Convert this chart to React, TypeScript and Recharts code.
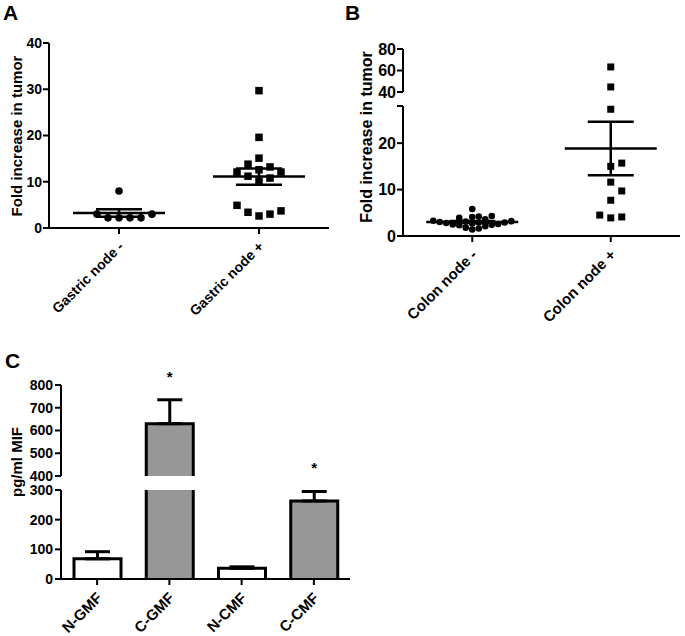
import React from 'react';
import {
  ScatterChart,
  Scatter,
  BarChart,
  Bar,
  Cell,
  XAxis,
  YAxis,
  ErrorBar,
  LabelList,
} from 'recharts';

const FONT = 'Arial, "Liberation Sans", Helvetica, sans-serif';

// Panel A: fold increase in tumor, gastric nodes
const gastricGroups = ['Gastric node -', 'Gastric node +'];
const gastricNeg = [8.0, 3.0, 3.0, 2.2, 2.2, 2.2, 2.2];
const gastricPos = [29.7, 19.6, 15.1, 13.8, 13.2, 12.6, 12.1, 12.1, 11.2, 10.8, 10.1, 4.9, 3.7, 3.4, 3.0, 2.6];
const gastricTicks = [0, 10, 20, 30, 40];

// Panel B: colon nodes, axis broken between 28 and 40
const colonGroups = ['Colon node -', 'Colon node +'];
const colonNeg = [5.8, 4.3, 4.2, 4.1, 3.9, 3.6, 3.3, 3.2, 3.1, 3.0, 2.9, 2.9, 2.8, 2.7, 2.6, 2.5, 2.4, 2.3, 2.1, 1.8, 1.6, 1.4];
const colonPos = [63.3, 44.7, 27.3, 15.7, 15.0, 11.6, 9.7, 7.7, 4.5, 4.1, 3.9];
const colonLowTicks = [0, 10, 20, 28];
const colonHighTicks = [40, 60, 80];

// Panel C: pg/ml MIF, axis broken between 300 and 400
const mifGroups = ['N-GMF', 'C-GMF', 'N-CMF', 'C-CMF'];
const mifMean = [68, 630, 36, 263];
const mifSem = [24, 105, 5, 32];
const mifSignificant = [false, true, false, true];
const mifLowTicks = [0, 100, 200, 300];
const mifHighTicks = [400, 500, 600, 700, 800];

const BAR_FILLS = ['#ffffff', '#979797', '#ffffff', '#979797'];

const mean = (a: number[]) => a.reduce((s, v) => s + v, 0) / a.length;
const sem = (a: number[]) => {
  const m = mean(a);
  return Math.sqrt(a.reduce((s, v) => s + (v - m) ** 2, 0) / (a.length - 1)) / Math.sqrt(a.length);
};

// simple beeswarm: lowest values first, each point goes to the nearest free column
function swarm(values: number[], center: number, pxY: number, pxX: number, slotPx: number, gapPx: number) {
  const order = values.map((_, i) => i).sort((a, b) => values[a] - values[b]);
  const placed: { v: number; slot: number }[] = [];
  const out: { x: number; y: number }[] = [];
  order.forEach((i) => {
    const v = values[i];
    let slot = 0;
    for (let n = 0; n < 50; n++) {
      const cand = n === 0 ? 0 : n % 2 ? (n + 1) / 2 : -n / 2;
      const hit = placed.some((p) => p.slot === cand && Math.abs(p.v - v) * pxY < gapPx);
      if (!hit) {
        slot = cand;
        break;
      }
    }
    placed.push({ v, slot });
    out[i] = { x: center + (slot * slotPx) / pxX, y: v };
  });
  return out;
}

const axisStroke = { stroke: '#000', strokeWidth: 2 };

const Circle = (r: number) => (p: any) => <circle cx={p.cx} cy={p.cy} r={r} fill="#000" />;
const Square = (s: number) => (p: any) => (
  <rect x={p.cx - s / 2} y={p.cy - s / 2} width={s} height={s} fill="#000" />
);
const MeanLine = (p: any) => (
  <line x1={p.cx - 46} x2={p.cx + 46} y1={p.cy} y2={p.cy} stroke="#000" strokeWidth={2.5} />
);

function CatTick(props: any) {
  const { x, y, payload, labels, fontSize } = props;
  const text = labels ? labels[payload.value - 1] : payload.value;
  const tx = x + 2;
  const ty = y + 8;
  return (
    <text
      x={tx}
      y={ty}
      transform={`rotate(-45 ${tx} ${ty})`}
      textAnchor="end"
      dominantBaseline="central"
      fill="#000"
      fontSize={fontSize}
      fontWeight={700}
      fontFamily={FONT}
    >
      {text}
    </text>
  );
}

function PanelA() {
  const pxX = 280 / 2;
  const pxY = 185 / 40;
  const neg = swarm(gastricNeg, 1, pxY, pxX, 11, 11);
  const pos = swarm(gastricPos, 2, pxY, pxX, 11, 11);
  const means = [
    { x: 1, y: mean(gastricNeg), sem: sem(gastricNeg) },
    { x: 2, y: mean(gastricPos), sem: sem(gastricPos) },
  ];
  const tick = { fill: '#000', fontSize: 14, fontWeight: 700, fontFamily: FONT };
  return (
    <div style={{ position: 'absolute', left: 0, top: 0 }}>
      <ScatterChart width={340} height={320} margin={{ top: 43, right: 11, bottom: 0, left: 9 }}>
        <XAxis
          type="number"
          dataKey="x"
          domain={[0.5, 2.5]}
          ticks={[1, 2]}
          interval={0}
          height={92}
          tickSize={6}
          axisLine={axisStroke}
          tickLine={axisStroke}
          tick={<CatTick labels={gastricGroups} fontSize={14} />}
        />
        <YAxis
          type="number"
          dataKey="y"
          domain={[0, 40]}
          ticks={gastricTicks}
          interval={0}
          width={40}
          tickSize={6}
          tickMargin={1}
          axisLine={axisStroke}
          tickLine={axisStroke}
          tick={tick}
        />
        <Scatter data={neg} shape={Circle(3.8)} isAnimationActive={false} />
        <Scatter data={pos} shape={Square(7.5)} isAnimationActive={false} />
        <Scatter data={means} shape={MeanLine} isAnimationActive={false}>
          <ErrorBar dataKey="sem" direction="y" width={23} stroke="#000" strokeWidth={2.5} />
        </Scatter>
      </ScatterChart>
    </div>
  );
}

function PanelB() {
  const pxX = 277 / 2;
  const pxYLow = 130 / 28;
  const pxYHigh = 43 / 40;
  const posLow = colonPos.filter((v) => v <= 28);
  const posHigh = colonPos.filter((v) => v > 28);
  const neg = swarm(colonNeg, 1, pxYLow, pxX, 6.5, 6);
  const low = swarm(posLow, 2, pxYLow, pxX, 11, 11);
  const high = swarm(posHigh, 2, pxYHigh, pxX, 11, 11);
  const means = [
    { x: 1, y: mean(colonNeg), sem: sem(colonNeg) },
    { x: 2, y: mean(colonPos), sem: sem(colonPos) },
  ];
  const tick = { fill: '#000', fontSize: 16, fontWeight: 700, fontFamily: FONT };
  return (
    <>
      <div style={{ position: 'absolute', left: 340, top: 0 }}>
        <ScatterChart width={345} height={104} margin={{ top: 49, right: 5, bottom: 12, left: 8 }}>
          <XAxis type="number" dataKey="x" domain={[0.5, 2.5]} hide />
          <YAxis
            type="number"
            dataKey="y"
            domain={[40, 80]}
            ticks={colonHighTicks}
            interval={0}
            width={55}
            tickSize={6}
            tickMargin={1}
            axisLine={axisStroke}
            tickLine={axisStroke}
            tick={tick}
          />
          <Scatter data={high} shape={Square(7)} isAnimationActive={false} />
        </ScatterChart>
      </div>
      <div style={{ position: 'absolute', left: 340, top: 96 }}>
        <ScatterChart width={345} height={240} margin={{ top: 10, right: 5, bottom: 16, left: 8 }}>
          <XAxis
            type="number"
            dataKey="x"
            domain={[0.5, 2.5]}
            ticks={[1, 2]}
            interval={0}
            height={84}
            tickSize={6}
            axisLine={axisStroke}
            tickLine={axisStroke}
            tick={<CatTick labels={colonGroups} fontSize={15} />}
          />
          <YAxis
            type="number"
            dataKey="y"
            domain={[0, 28]}
            ticks={colonLowTicks}
            interval={0}
            tickFormatter={(v: number) => (v === 28 ? '' : String(v))}
            width={55}
            tickSize={6}
            tickMargin={1}
            axisLine={axisStroke}
            tickLine={axisStroke}
            tick={tick}
          />
          <Scatter data={neg} shape={Circle(3.3)} isAnimationActive={false} />
          <Scatter data={low} shape={Square(7)} isAnimationActive={false} />
          <Scatter data={means} shape={MeanLine} isAnimationActive={false}>
            <ErrorBar dataKey="sem" direction="y" width={23} stroke="#000" strokeWidth={2.5} />
          </Scatter>
        </ScatterChart>
      </div>
    </>
  );
}

const mifData = mifGroups.map((name, i) => ({ name, mean: mifMean[i], sem: mifSem[i] }));

// bar drawn without its bottom edge so the axis break stays open
const barShape = (minVisible: number) => (p: any) => {
  if (p.payload.mean < minVisible) return null;
  const top = Math.min(p.y, p.y + p.height);
  const bottom = Math.max(p.y, p.y + p.height);
  const x = p.x;
  const w = p.width;
  return (
    <g>
      <rect x={x} y={top} width={w} height={bottom - top} fill={p.fill} />
      <path d={`M${x},${bottom}V${top}H${x + w}V${bottom}`} fill="none" stroke="#000" strokeWidth={3} />
    </g>
  );
};

const starLabel = (high: boolean, ppu: number) => (p: any) => {
  const i = mifGroups.indexOf(p.value);
  if (i < 0 || !mifSignificant[i]) return null;
  const errTop = mifMean[i] + mifSem[i];
  if (high ? errTop < 400 : errTop > 300) return null;
  const vb = p.viewBox || p;
  const barTop = Math.min(vb.y, vb.y + vb.height);
  const cx = vb.x + vb.width / 2;
  const cy = barTop - mifSem[i] * ppu - 27;
  return (
    <text x={cx} y={cy + 9} textAnchor="middle" fill="#000" fontSize={15} fontWeight={700} fontFamily={FONT}>
      *
    </text>
  );
};

function PanelC() {
  const tick = { fill: '#000', fontSize: 14, fontWeight: 700, fontFamily: FONT };
  const highErr = (d: any) => (d.mean >= 400 ? [0, d.sem] : undefined);
  const lowErr = (d: any) => (d.mean + d.sem <= 300 ? [0, d.sem] : undefined);
  return (
    <>
      <div style={{ position: 'absolute', left: 0, top: 330 }}>
        <BarChart width={360} height={160} data={mifData} barSize={47} margin={{ top: 55, right: 10, bottom: 14, left: 9 }}>
          <XAxis dataKey="name" hide />
          <YAxis
            domain={[400, 800]}
            ticks={mifHighTicks}
            interval={0}
            allowDataOverflow
            width={52}
            tickSize={6}
            tickMargin={2}
            axisLine={axisStroke}
            tickLine={axisStroke}
            tick={tick}
          />
          <Bar dataKey="mean" shape={barShape(400)} isAnimationActive={false}>
            {mifData.map((d, i) => (
              <Cell key={d.name} fill={BAR_FILLS[i]} />
            ))}
            <ErrorBar dataKey={highErr} direction="y" width={12.5} stroke="#000" strokeWidth={3} />
            <LabelList dataKey="name" content={starLabel(true, 91 / 400)} />
          </Bar>
        </BarChart>
      </div>
      <div style={{ position: 'absolute', left: 0, top: 440 }}>
        <BarChart width={360} height={196} data={mifData} barSize={47} margin={{ top: 50, right: 10, bottom: 0, left: 9 }}>
          <XAxis
            dataKey="name"
            height={57}
            interval={0}
            tickSize={6}
            axisLine={axisStroke}
            tickLine={axisStroke}
            tick={<CatTick fontSize={15} />}
          />
          <YAxis
            domain={[0, 300]}
            ticks={mifLowTicks}
            interval={0}
            allowDataOverflow
            width={52}
            tickSize={6}
            tickMargin={2}
            axisLine={axisStroke}
            tickLine={axisStroke}
            tick={tick}
          />
          <Bar dataKey="mean" shape={barShape(0)} isAnimationActive={false}>
            {mifData.map((d, i) => (
              <Cell key={d.name} fill={BAR_FILLS[i]} />
            ))}
            <ErrorBar dataKey={lowErr} direction="y" width={12.5} stroke="#000" strokeWidth={3} />
            <LabelList dataKey="name" content={starLabel(false, 89 / 300)} />
          </Bar>
        </BarChart>
      </div>
    </>
  );
}

function Titles() {
  const common = { fill: '#000', fontWeight: 700, fontFamily: FONT } as const;
  return (
    <svg width={685} height={636} style={{ position: 'absolute', left: 0, top: 0, pointerEvents: 'none' }}>
      <text x={3} y={20} fontSize={21} {...common}>A</text>
      <text x={345} y={20} fontSize={21} {...common}>B</text>
      <text x={5} y={368} fontSize={21} {...common}>C</text>
      <text x={16} y={136} transform="rotate(-90 16 136)" textAnchor="middle" dominantBaseline="central" fontSize={15} {...common}>
        Fold increase in tumor
      </text>
      <text x={366} y={137} transform="rotate(-90 366 137)" textAnchor="middle" dominantBaseline="central" fontSize={16} {...common}>
        Fold increase in tumor
      </text>
      <text x={16} y={462} transform="rotate(-90 16 462)" textAnchor="middle" dominantBaseline="central" fontSize={15} {...common}>
        pg/ml MIF
      </text>
    </svg>
  );
}

export default function App() {
  return (
    <div style={{ position: 'absolute', left: 0, top: 0, width: 685, height: 636, background: '#fff', overflow: 'hidden' }}>
      <Titles />
      <PanelA />
      <PanelB />
      <PanelC />
    </div>
  );
}
